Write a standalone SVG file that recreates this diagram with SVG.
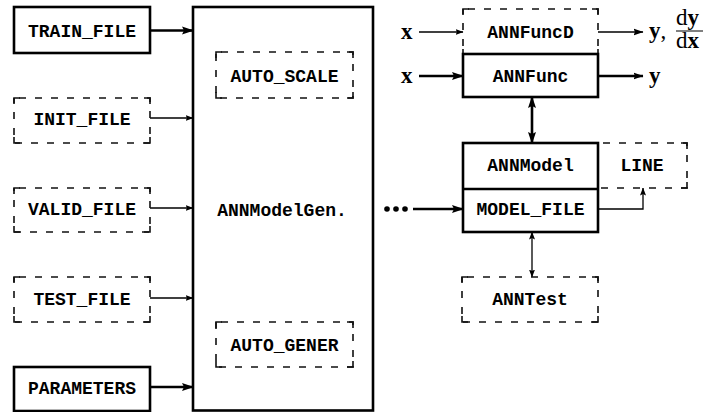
<svg xmlns="http://www.w3.org/2000/svg" width="703" height="412" viewBox="0 0 703 412">
<style>
.solid{fill:#fff;stroke:#000;stroke-width:2.6}
.dash{fill:none;stroke:#111;stroke-width:1.6;stroke-dasharray:7 9;stroke-dashoffset:-5}
.corner{fill:none;stroke:#111;stroke-width:1.6}
.lbl{font-family:"Liberation Mono",monospace;font-weight:bold;font-size:18px;fill:#000;text-anchor:middle}
.math{font-family:"Liberation Serif",serif;font-size:23px;fill:#000}
.thick{fill:none;stroke:#000;stroke-width:2.6}
.thin{fill:none;stroke:#000;stroke-width:1.3}
</style>
<defs>
<marker id="big" markerUnits="userSpaceOnUse" markerWidth="12" markerHeight="10" viewBox="0 0 12 10" refX="11" refY="5" orient="auto-start-reverse"><path d="M0,1 L12,5 L0,9 L2,5 Z" fill="#000"/></marker>
<marker id="small" markerUnits="userSpaceOnUse" markerWidth="8" markerHeight="8" viewBox="0 0 8 8" refX="7.5" refY="4" orient="auto-start-reverse"><path d="M0,1 L8,4 L0,7 L1.5,4 Z" fill="#000"/></marker>
<marker id="mid" markerUnits="userSpaceOnUse" markerWidth="10" markerHeight="9" viewBox="0 0 10 9" refX="9.5" refY="4.5" orient="auto"><path d="M0,1 L10,4.5 L0,8 L1.5,4.5 Z" fill="#000"/></marker>
</defs>

<g id="connectors">
<path class="thick" d="M150,30.5 H193" marker-end="url(#big)"/>
<path class="thin" d="M150,118 H193" marker-end="url(#small)"/>
<path class="thin" d="M150,208 H193" marker-end="url(#small)"/>
<path class="thin" d="M150,298 H193" marker-end="url(#small)"/>
<path class="thick" d="M150,387 H193" marker-end="url(#big)"/>
<circle cx="387" cy="209" r="2.8"/><circle cx="396" cy="209" r="2.8"/><circle cx="405" cy="209" r="2.8"/>
<path class="thick" d="M413,209 H463" marker-end="url(#big)"/>
<path class="thin" d="M419,32 H463" marker-end="url(#small)"/>
<path class="thick" d="M419,76 H463" marker-end="url(#big)"/>
<path class="thin" d="M598,32 H643" marker-end="url(#mid)"/>
<path class="thick" d="M598,76 H643" marker-end="url(#mid)"/>
<path class="thick" d="M532,97 V143" marker-start="url(#big)" marker-end="url(#big)"/>
<path class="thin" d="M598,209 H643 V188" marker-end="url(#small)"/>
<path class="thin" d="M532,232 V277" marker-start="url(#small)" marker-end="url(#small)"/>
</g>

<g id="train_file"><rect class="solid" x="14" y="7" width="136" height="46"/><text class="lbl" x="82" y="36.5">TRAIN_FILE</text></g>
<g id="init_file"><rect class="dash" x="14" y="98" width="136" height="45"/><path class="corner" d="M14,104 V98 H20 M144,98 H150 V104 M150,137 V143 H144 M20,143 H14 V137"/><text class="lbl" x="82" y="124.5">INIT_FILE</text></g>
<g id="valid_file"><rect class="dash" x="14" y="188" width="136" height="44"/><path class="corner" d="M14,194 V188 H20 M144,188 H150 V194 M150,226 V232 H144 M20,232 H14 V226"/><text class="lbl" x="82" y="214.5">VALID_FILE</text></g>
<g id="test_file"><rect class="dash" x="14" y="277" width="136" height="45"/><path class="corner" d="M14,283 V277 H20 M144,277 H150 V283 M150,316 V322 H144 M20,322 H14 V316"/><text class="lbl" x="82" y="304.5">TEST_FILE</text></g>
<g id="parameters"><rect class="solid" x="14" y="367" width="136" height="44"/><text class="lbl" x="82" y="393.5">PARAMETERS</text></g>

<g id="annmodelgen"><rect class="solid" x="193" y="7" width="180" height="403.5"/><text class="lbl" x="282" y="216">ANNModelGen.</text></g>
<g id="auto_scale"><rect class="dash" x="216" y="52" width="137" height="46"/><path class="corner" d="M216,58 V52 H222 M347,52 H353 V58 M353,92 V98 H347 M222,98 H216 V92"/><text class="lbl" x="284.5" y="81.5">AUTO_SCALE</text></g>
<g id="auto_gener"><rect class="dash" x="216" y="322" width="137" height="45"/><path class="corner" d="M216,328 V322 H222 M347,322 H353 V328 M353,361 V367 H347 M222,367 H216 V361"/><text class="lbl" x="284.5" y="351">AUTO_GENER</text></g>

<g id="annfuncd"><rect class="dash" x="463" y="9" width="135" height="46"/><path class="corner" d="M463,15 V9 H469 M592,9 H598 V15 M598,49 V55 M463,55 V49"/><text class="lbl" x="530.5" y="38">ANNFuncD</text></g>
<g id="annfunc"><rect class="solid" x="463" y="54" width="135" height="43"/><text class="lbl" x="530.5" y="82">ANNFunc</text></g>
<g id="annmodel"><rect class="solid" x="463" y="143" width="135" height="89"/><line class="thick" x1="463" y1="189" x2="598" y2="189"/><text class="lbl" x="530.5" y="171">ANNModel</text><text class="lbl" x="530.5" y="215">MODEL_FILE</text></g>
<g id="line"><path class="dash" d="M598,143 H687 V188 H598"/><path class="corner" d="M681,143 H687 V149 M687,182 V188 H681"/><text class="lbl" x="642" y="171">LINE</text></g>
<g id="anntest"><rect class="dash" x="462" y="277" width="136" height="45"/><path class="corner" d="M462,283 V277 H468 M592,277 H598 V283 M598,316 V322 H592 M468,322 H462 V316"/><text class="lbl" x="530" y="305">ANNTest</text></g>

<g id="labels">
<text class="math" x="401" y="39" font-weight="bold">x</text>
<text class="math" x="401" y="83" font-weight="bold">x</text>
<text class="math" x="649" y="38" font-weight="bold">y<tspan font-weight="normal">,</tspan></text>
<text class="math" x="676" y="25" font-size="19">d<tspan font-weight="bold">y</tspan></text>
<line x1="676" y1="31" x2="703" y2="31" stroke="#000" stroke-width="1"/>
<text class="math" x="676" y="48" font-size="19">d<tspan font-weight="bold">x</tspan></text>
<text class="math" x="649" y="83" font-weight="bold">y</text>
</g>
</svg>
